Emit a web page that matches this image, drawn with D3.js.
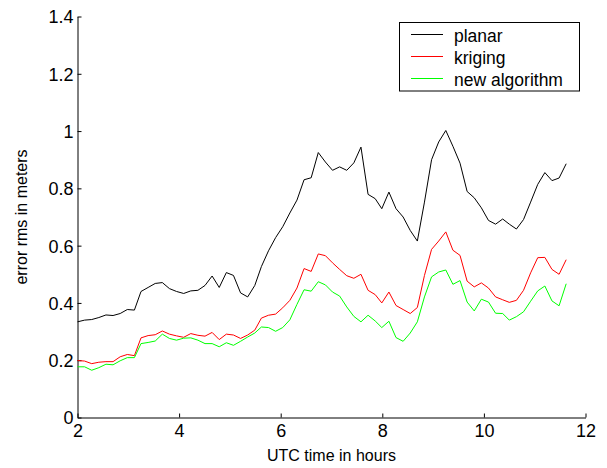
<!DOCTYPE html>
<html>
<head>
<meta charset="utf-8">
<script src="https://cdn.jsdelivr.net/npm/d3@7"></script>
<style>
  html, body { margin: 0; padding: 0; background: #fff; }
  svg { display: block; }
  text { font-family: "Liberation Sans", Arial, sans-serif; fill: #000; }
</style>
</head>
<body>
<svg id="chart" width="607" height="468"></svg>
<script>
// ---- data ----
const timeHours = [2.00,2.14,2.28,2.42,2.56,2.70,2.84,2.98,3.12,3.25,
  3.39,3.53,3.67,3.81,3.95,4.09,4.23,4.37,4.51,4.65,
  4.79,4.93,5.07,5.21,5.35,5.49,5.62,5.76,5.90,6.04,
  6.18,6.32,6.46,6.60,6.74,6.88,7.02,7.16,7.30,7.44,
  7.58,7.72,7.86,7.99,8.13,8.27,8.41,8.55,8.69,8.83,
  8.97,9.11,9.25,9.39,9.53,9.67,9.81,9.95,10.09,10.23,
  10.37,10.50,10.64,10.78,10.92,11.06,11.20,11.34,11.48,11.62];

const planar = [0.334,0.340,0.342,0.349,0.358,0.356,0.363,0.377,0.375,0.440,
  0.454,0.468,0.471,0.450,0.440,0.433,0.442,0.444,0.461,0.494,
  0.454,0.506,0.496,0.435,0.421,0.461,0.527,0.582,0.628,0.666,
  0.714,0.759,0.830,0.837,0.925,0.892,0.863,0.875,0.863,0.889,
  0.944,0.779,0.764,0.729,0.787,0.729,0.700,0.653,0.616,0.752,
  0.900,0.962,1.002,0.947,0.888,0.789,0.767,0.732,0.688,0.675,
  0.693,0.675,0.658,0.691,0.752,0.814,0.855,0.827,0.836,0.886];

const kriging = [0.199,0.197,0.188,0.193,0.195,0.195,0.212,0.220,0.216,0.278,
  0.286,0.289,0.302,0.291,0.285,0.280,0.293,0.287,0.284,0.297,
  0.272,0.291,0.288,0.276,0.288,0.305,0.347,0.357,0.361,0.383,
  0.409,0.452,0.520,0.510,0.571,0.565,0.540,0.517,0.495,0.486,
  0.500,0.444,0.429,0.400,0.438,0.391,0.377,0.363,0.384,0.496,
  0.587,0.616,0.648,0.584,0.566,0.476,0.456,0.470,0.452,0.421,
  0.411,0.402,0.409,0.444,0.505,0.558,0.559,0.517,0.500,0.551];

const newAlgorithm = [0.177,0.177,0.165,0.174,0.186,0.184,0.198,0.209,0.209,0.258,
  0.262,0.267,0.291,0.276,0.270,0.277,0.278,0.270,0.258,0.258,
  0.247,0.261,0.252,0.266,0.281,0.295,0.316,0.314,0.301,0.314,
  0.341,0.395,0.446,0.441,0.474,0.463,0.438,0.424,0.386,0.353,
  0.334,0.357,0.337,0.314,0.336,0.279,0.266,0.295,0.334,0.421,
  0.491,0.508,0.515,0.465,0.478,0.403,0.372,0.413,0.403,0.364,
  0.363,0.340,0.352,0.369,0.406,0.442,0.459,0.407,0.390,0.467];

const xTicks = [2, 4, 6, 8, 10, 12];
const yTicks = [0, 0.2, 0.4, 0.6, 0.8, 1, 1.2, 1.4];
const seriesNames = ["planar", "kriging", "new algorithm"];
const seriesColors = ["#000000", "#ff0000", "#00ff00"];
const xLabel = "UTC time in hours";
const yLabel = "error rms in meters";

// ---- drawing ----
const svg = d3.select("#chart");
const x = d3.scaleLinear().domain([2, 12]).range([77.5, 585.5]);
const y = d3.scaleLinear().domain([0, 1.4]).range([417.5, 16.5]);

const fmt = d => String(+d.toFixed(1));

const gx = svg.append("g").attr("transform", `translate(0,${y(0)})`)
  .call(d3.axisBottom(x).tickValues(xTicks).tickFormat(fmt).tickSizeInner(-4).tickSizeOuter(0));
const gy = svg.append("g").attr("transform", `translate(${x(2)},0)`)
  .call(d3.axisLeft(y).tickValues(yTicks).tickFormat(fmt).tickSizeInner(-4).tickSizeOuter(0));

[gx, gy].forEach(g => {
  g.select(".domain").attr("stroke", "#000").attr("stroke-width", 1);
  g.selectAll(".tick line").attr("stroke", "#000").attr("stroke-width", 1);
  g.selectAll(".tick text")
    .style("font-family", '"Liberation Sans", Arial, sans-serif')
    .style("font-size", "18px").attr("fill", "#000");
});
gx.selectAll(".tick text").attr("y", 19).attr("dy", null);
gy.selectAll(".tick text").attr("x", -4).attr("dy", "0.36em");

const series = [planar, kriging, newAlgorithm];
const line = d3.line().x((d, i) => x(timeHours[i])).y(d => y(d));
series.forEach((s, k) => {
  svg.append("path").datum(s)
    .attr("fill", "none").attr("stroke", seriesColors[k]).attr("stroke-width", 1)
    .attr("d", line);
});

// axis labels
svg.append("text").attr("x", (x(2) + x(12)) / 2).attr("y", 461)
  .attr("text-anchor", "middle").style("font-size", "16px").text(xLabel);
svg.append("text").attr("transform", `translate(27,${(y(0) + y(1.4)) / 2}) rotate(-90)`)
  .attr("text-anchor", "middle").style("font-size", "16px").text(yLabel);

// legend
const lg = svg.append("g");
lg.append("rect").attr("x", 399.5).attr("y", 22.5).attr("width", 180).attr("height", 68.5)
  .attr("fill", "#fff").attr("stroke", "#000").attr("stroke-width", 1);
seriesNames.forEach((name, k) => {
  const cy = 34.5 + k * 22;
  lg.append("line").attr("x1", 411).attr("x2", 443).attr("y1", cy).attr("y2", cy)
    .attr("stroke", seriesColors[k]).attr("stroke-width", 1);
  lg.append("text").attr("x", 454).attr("y", cy + 7.8).style("font-size", "17.5px").text(name);
});
</script>
</body>
</html>
